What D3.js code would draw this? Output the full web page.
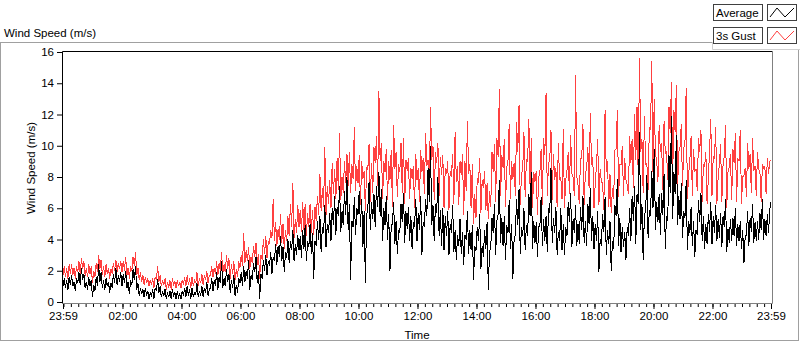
<!DOCTYPE html>
<html>
<head>
<meta charset="utf-8">
<script src="https://cdn.jsdelivr.net/npm/d3@7"></script>
<style>
  body { margin: 0; background: #fff; }
  svg { display: block; font-family: "Liberation Sans", Arial, sans-serif; }
  .lbl { font-size: 11.5px; fill: #000; }
</style>
</head>
<body>
<div id="chart"></div>
<script>
// wind speed readings every 2.5 minutes, 23:59 to 23:59 next day (m/s), 24 per hour
var startTime = new Date(2016, 0, 1, 23, 59);
var endTime = new Date(2016, 0, 2, 23, 59);
var stepMinutes = 2.5;

var average = [
  1.0,1.5,0.9,1.4,0.8,1.6,1.1,1.7,1.0,1.3,0.7,1.5,1.2,1.9,1.1,2.2,1.4,1.8,0.9,1.3,0.8,1.6,1.0,1.4,
  0.3,1.1,0.7,1.6,1.0,2.4,1.3,1.9,0.9,1.4,0.8,1.5,1.0,1.3,0.6,1.2,0.9,1.8,1.2,2.2,1.1,1.7,1.3,1.9,
  1.0,1.8,1.2,2.0,0.9,1.3,0.5,1.4,1.1,2.1,1.4,2.3,0.8,1.2,0.4,0.9,0.5,0.8,0.3,0.9,0.4,0.7,0.2,0.6,
  0.4,0.8,0.2,0.9,0.7,1.5,0.6,1.0,0.3,0.7,0.4,0.8,0.2,0.6,0.3,0.7,0.2,0.8,0.4,0.6,0.2,0.7,0.3,0.5,
  0.2,0.7,0.4,0.9,0.3,1.0,0.4,0.8,0.2,0.9,0.3,0.6,0.5,1.2,0.3,0.7,0.4,1.0,0.3,0.9,0.6,1.3,0.4,0.8,
  0.9,1.5,0.7,1.4,1.0,1.9,0.8,1.6,1.2,2.6,0.9,1.5,1.0,2.1,1.3,1.8,0.6,1.4,0.9,1.7,0.4,1.1,0.6,1.5,
  1.2,1.9,1.0,2.3,1.3,2.0,1.5,2.7,0.8,1.7,1.4,2.5,1.9,2.9,1.2,2.0,0.2,1.8,1.5,2.7,2.0,3.0,1.7,2.6,
  2.3,3.2,1.8,2.9,2.6,3.7,2.4,3.6,2.9,4.2,2.6,3.5,1.9,3.2,2.8,4.0,2.5,3.9,3.3,4.6,2.6,3.7,3.0,4.3,
  3.3,4.2,2.8,4.6,3.4,4.9,2.6,3.9,3.5,5.0,3.1,4.4,1.5,3.9,3.6,5.2,4.0,5.5,3.2,4.8,4.4,6.2,3.5,5.0,
  4.4,5.7,3.9,6.0,4.9,6.8,4.3,6.1,5.5,7.4,4.5,5.8,4.9,7.1,5.6,8.0,4.6,6.3,1.4,5.2,4.8,6.7,4.3,6.0,
  5.6,7.1,4.8,6.6,3.5,5.8,1.2,5.5,6.0,7.7,4.6,6.4,5.3,6.9,4.8,7.4,6.1,8.3,5.5,7.2,3.9,6.0,4.9,6.8,
  4.0,5.6,2.0,4.9,5.0,6.4,3.7,5.2,3.1,4.6,4.4,6.3,5.1,7.0,3.8,5.8,4.7,6.1,3.9,5.5,3.4,5.1,4.8,6.6,
  3.9,5.7,4.6,6.8,3.0,5.1,4.8,6.6,5.5,8.6,6.4,10.0,4.9,6.2,3.9,6.3,5.7,8.0,4.2,5.9,3.6,6.0,3.3,5.5,
  4.2,5.8,3.0,5.0,4.4,6.2,3.2,4.6,2.7,4.3,3.6,5.3,3.1,4.5,2.4,4.3,4.0,5.8,3.1,4.6,3.3,4.9,1.4,3.6,
  3.3,4.8,3.9,5.6,2.1,3.6,2.9,4.6,3.4,5.1,0.8,3.2,3.5,5.4,4.4,6.3,3.0,5.2,5.6,7.8,3.8,5.4,3.6,5.5,
  2.7,4.9,4.4,6.5,3.4,5.0,1.5,4.0,4.3,6.6,4.9,7.2,3.1,4.8,4.2,6.0,3.3,4.9,4.2,6.9,5.5,8.3,3.4,5.2,
  3.8,5.1,2.9,4.8,4.9,6.7,3.6,5.3,3.9,5.5,3.2,6.0,5.7,8.6,3.8,5.4,4.4,6.1,3.0,4.5,3.9,6.0,3.3,5.0,
  3.0,4.8,4.2,6.4,5.1,7.0,3.5,5.3,4.4,6.2,3.6,5.0,3.7,6.1,4.6,6.8,3.8,5.2,3.6,6.3,5.0,7.3,3.9,5.5,
  3.4,5.0,3.9,5.8,1.9,4.0,3.6,5.6,4.5,6.7,3.0,4.6,3.7,5.2,2.0,3.9,3.4,6.2,5.5,7.9,3.6,5.4,3.2,4.8,
  3.5,4.5,2.7,4.8,4.2,6.0,3.9,6.8,5.2,7.4,3.7,6.9,6.3,10.9,4.6,6.3,2.7,5.6,5.8,8.1,4.1,5.9,5.5,8.4,
  6.0,9.8,4.6,6.4,5.1,6.9,4.3,7.0,5.6,8.2,3.4,5.5,5.2,9.4,7.0,11.9,5.3,8.3,6.9,10.7,4.9,6.8,5.3,7.6,
  4.1,5.8,5.4,7.8,3.3,5.2,4.4,6.1,3.6,5.2,2.9,4.6,4.3,6.5,5.1,7.0,3.9,5.5,3.4,5.0,3.7,5.6,4.5,6.4,
  3.7,5.5,4.4,6.2,3.9,5.3,4.1,5.7,3.5,5.5,4.8,6.6,3.2,4.7,3.8,5.3,3.9,5.4,4.2,6.0,3.6,5.0,3.9,5.2,
  3.4,4.6,2.5,4.2,4.3,5.8,3.6,5.4,4.5,6.3,3.8,5.1,3.9,5.2,4.0,5.7,4.6,6.6,4.0,5.3,4.2,5.6,4.4,5.9,
  6.4
];

var gust = [
  1.7,2.3,1.6,2.2,1.5,2.4,1.8,2.4,1.7,2.2,1.5,2.3,1.9,2.6,1.8,2.8,2.1,2.6,1.7,2.2,1.6,2.4,1.8,2.3,
  1.2,2.0,1.6,2.5,1.9,3.0,2.1,2.7,1.7,2.3,1.6,2.4,1.8,2.2,1.5,2.1,1.8,2.5,2.0,2.7,1.9,2.5,2.1,2.6,
  1.9,2.6,2.0,2.9,1.7,2.2,1.5,2.3,2.0,2.9,2.3,3.2,1.7,2.2,1.4,1.9,1.3,1.7,1.1,1.6,1.2,1.5,1.0,1.4,
  1.1,1.5,0.9,1.6,1.4,2.3,1.3,1.7,1.0,1.4,1.1,1.5,0.8,1.3,0.9,1.4,0.8,1.5,1.1,1.3,0.9,1.4,1.0,1.3,
  0.9,1.4,1.1,1.6,1.0,1.7,1.1,1.5,0.9,1.6,1.0,1.4,1.2,1.9,1.0,1.5,1.2,1.8,1.1,1.7,1.4,2.0,1.2,1.7,
  1.7,2.3,1.6,2.2,1.8,2.6,1.7,2.5,2.0,3.2,1.8,2.4,1.9,3.0,2.1,2.8,1.5,2.4,1.8,2.6,1.4,2.1,1.6,2.6,
  2.2,3.0,2.3,4.4,2.5,3.3,2.6,3.5,2.1,2.9,2.5,3.6,2.9,3.8,2.4,3.1,1.5,3.0,2.7,4.0,3.1,4.2,2.8,3.9,
  3.7,4.6,4.1,6.6,3.9,5.1,3.6,4.7,4.0,5.6,3.8,5.0,3.4,4.6,3.9,5.5,4.2,6.3,4.8,7.6,4.1,5.3,4.4,6.2,
  4.8,5.9,4.5,6.4,4.6,6.3,4.2,5.7,4.8,6.3,4.4,5.9,4.3,6.1,5.2,6.8,5.6,8.2,5.8,7.3,6.1,9.9,5.6,7.4,
  6.3,7.8,6.0,8.9,6.9,8.5,6.6,9.2,7.2,10.8,6.5,8.0,7.0,9.0,7.6,9.5,7.4,9.6,7.0,8.8,7.9,11.2,7.1,8.7,
  7.6,9.4,6.2,9.0,7.9,8.4,5.8,8.6,8.5,10.1,6.4,8.9,7.0,9.9,8.9,10.6,7.4,13.5,9.0,10.2,6.6,9.0,8.3,9.8,
  6.5,9.0,7.8,9.7,6.1,11.3,8.5,9.6,6.7,8.8,8.3,10.2,7.0,10.5,6.3,9.1,8.4,9.2,6.6,8.6,7.9,8.7,6.0,9.5,
  7.8,8.6,6.4,9.7,8.3,9.2,6.9,10.8,8.7,9.1,7.2,12.5,9.1,10.0,6.5,9.6,8.9,10.2,6.8,9.3,8.1,9.4,6.0,8.6,
  8.2,9.0,5.9,8.4,8.0,9.5,6.3,10.9,7.7,8.7,6.2,9.0,8.1,9.5,5.6,9.0,7.1,11.6,8.2,8.8,6.0,8.8,5.0,6.9,
  5.4,7.9,7.6,9.2,5.7,7.8,7.3,8.4,5.9,7.6,5.3,7.1,6.1,9.6,8.3,10.1,6.4,10.5,9.3,13.6,6.8,9.4,8.6,10.4,
  6.1,8.6,9.0,11.4,6.6,9.0,7.9,8.9,6.8,11.5,9.6,12.6,6.2,8.2,8.5,10.9,6.7,9.1,9.0,11.7,7.3,10.5,6.0,8.3,
  7.7,8.4,5.6,8.0,8.3,9.8,6.2,10.5,9.4,13.4,6.8,8.9,9.1,11.0,6.5,9.5,7.8,8.6,6.1,10.2,7.8,8.0,6.6,11.1,
  6.0,7.8,8.4,9.6,6.9,10.7,8.2,8.0,6.8,14.5,8.0,7.5,6.3,9.2,9.2,11.4,6.2,8.3,8.5,9.9,7.3,12.1,8.8,9.3,
  6.0,7.6,8.7,10.4,6.2,8.5,7.7,7.6,5.9,12.3,8.3,9.0,6.1,8.2,5.7,7.3,6.6,9.7,9.8,12.3,6.7,8.8,8.8,10.0,
  6.8,9.2,7.8,7.5,6.9,10.6,8.9,10.4,7.3,12.0,9.1,12.5,7.9,15.6,9.6,10.4,7.0,11.9,8.8,8.9,7.2,11.2,11.0,15.4,
  8.3,13.0,9.4,9.1,7.7,11.3,9.6,10.2,7.2,11.6,9.5,9.6,7.8,12.5,10.8,14.1,7.9,12.3,10.9,13.9,7.3,9.6,9.9,11.4,
  7.4,9.8,10.2,13.7,6.6,8.2,9.1,10.6,6.8,9.8,8.4,8.5,7.1,10.5,9.6,11.0,6.4,8.8,8.7,9.6,6.3,7.9,9.6,11.7,
  6.8,9.3,9.2,11.2,6.3,8.0,8.8,10.1,6.4,8.8,9.3,11.3,6.0,8.3,8.6,9.5,6.5,9.8,8.9,10.8,6.4,9.2,9.0,11.0,
  6.3,8.0,8.1,8.6,6.7,10.2,8.5,9.5,7.0,10.5,8.4,8.7,6.8,9.6,8.5,8.3,6.4,8.8,8.6,8.7,6.9,9.2,8.2,9.0,
  9.1
];

var yTicks = [0, 2, 4, 6, 8, 10, 12, 14, 16];
var xTickHours = [2, 4, 6, 8, 10, 12, 14, 16, 18, 20, 22];

var W = 800, H = 342;

var svg = d3.select("#chart").append("svg")
    .attr("width", W)
    .attr("height", H);

// outer chart panel
svg.append("rect")
    .attr("x", 0.5).attr("y", 42.5)
    .attr("width", 798).attr("height", 298)
    .attr("fill", "#fff")
    .attr("stroke", "#a0a0a0");

svg.append("text")
    .attr("class", "lbl")
    .attr("x", 4).attr("y", 36.5)
    .text("Wind Speed (m/s)");

var x = d3.scaleTime()
    .domain([startTime, endTime])
    .range([63, 771]);

var y = d3.scaleLinear()
    .domain([0, 16])
    .range([302, 52]);

var times = average.map(function(d, i) {
    return new Date(startTime.getTime() + i * stepMinutes * 60000);
});

// plot area
svg.append("rect")
    .attr("x", 62).attr("y", 51)
    .attr("width", 710).attr("height", 253)
    .attr("fill", "#fff");

var line = d3.line()
    .x(function(d, i) { return x(times[i]); })
    .y(function(d) { return y(d); });

svg.append("path")
    .datum(gust)
    .attr("d", line)
    .attr("fill", "none")
    .attr("stroke", "#ff4040")
    .attr("stroke-width", 1)
    .attr("shape-rendering", "crispEdges");

svg.append("path")
    .datum(average)
    .attr("d", line)
    .attr("fill", "none")
    .attr("stroke", "#000")
    .attr("stroke-width", 1)
    .attr("shape-rendering", "crispEdges");

// plot frame: dark top/left, grey bottom/right
svg.append("path")
    .attr("d", "M62.5,303V51.5H772")
    .attr("fill", "none").attr("stroke", "#000");
svg.append("path")
    .attr("d", "M62,303.5H772.5V51")
    .attr("fill", "none").attr("stroke", "#808080");

// y axis
var yAxis = svg.append("g")
    .attr("transform", "translate(62,0)")
    .call(d3.axisLeft(y).tickValues(yTicks).tickSize(5).tickPadding(3));
yAxis.select(".domain").remove();
yAxis.selectAll("line").attr("stroke", "#000");
yAxis.selectAll("text")
    .attr("class", "lbl")
    .attr("font-family", null)
    .attr("font-size", null);

// x axis, major every 2h plus both ends, minor every 15 min
var majorTicks = [startTime].concat(xTickHours.map(function(h) {
    return new Date(2016, 0, 2, h, 0);
})).concat([endTime]);
var minorTicks = d3.timeMinute.every(15).range(startTime, endTime);

svg.append("g")
    .attr("transform", "translate(0,304)")
    .call(d3.axisBottom(x).tickValues(minorTicks).tickSize(3).tickFormat(""))
    .call(function(g) { g.select(".domain").remove(); })
    .selectAll("line").attr("stroke", "#000");

var xAxis = svg.append("g")
    .attr("transform", "translate(0,304)")
    .call(d3.axisBottom(x).tickValues(majorTicks).tickSize(5).tickPadding(3)
        .tickFormat(d3.timeFormat("%H:%M")));
xAxis.select(".domain").remove();
xAxis.selectAll("line").attr("stroke", "#000");
xAxis.selectAll("text")
    .attr("class", "lbl")
    .attr("font-family", null)
    .attr("font-size", null);

svg.append("text")
    .attr("class", "lbl")
    .attr("x", 417).attr("y", 339)
    .attr("text-anchor", "middle")
    .text("Time");

svg.append("text")
    .attr("class", "lbl")
    .attr("transform", "translate(35,168) rotate(-90)")
    .attr("text-anchor", "middle")
    .text("Wind Speed (m/s)");

// legend panel
var legend = svg.append("g");
legend.append("rect")
    .attr("x", 712).attr("y", -1)
    .attr("width", 90).attr("height", 50)
    .attr("fill", "#fff");
legend.append("path")
    .attr("d", "M712.5,42V49.5H800")
    .attr("fill", "none").attr("stroke", "#d0d0d0");

var series = [
    { name: "Average", color: "#000" },
    { name: "3s Gust", color: "#ff4040" }
];

series.forEach(function(s, i) {
    var top = 4 + i * 23;
    legend.append("rect")
        .attr("x", 713.5).attr("y", top + 0.5)
        .attr("width", 49).attr("height", 16)
        .attr("fill", "#fff").attr("stroke", "#404040");
    legend.append("text")
        .attr("class", "lbl")
        .attr("x", 716).attr("y", top + 13)
        .text(s.name);
    legend.append("rect")
        .attr("x", 767.5).attr("y", top + 0.5)
        .attr("width", 29).attr("height", 16)
        .attr("fill", "#fff").attr("stroke", "#404040");
    legend.append("path")
        .attr("d", "M770," + (top + 13) + "L777," + (top + 4) + "L785," + (top + 13) + "L794," + (top + 4))
        .attr("fill", "none")
        .attr("stroke", s.color);
});
</script>
</body>
</html>
